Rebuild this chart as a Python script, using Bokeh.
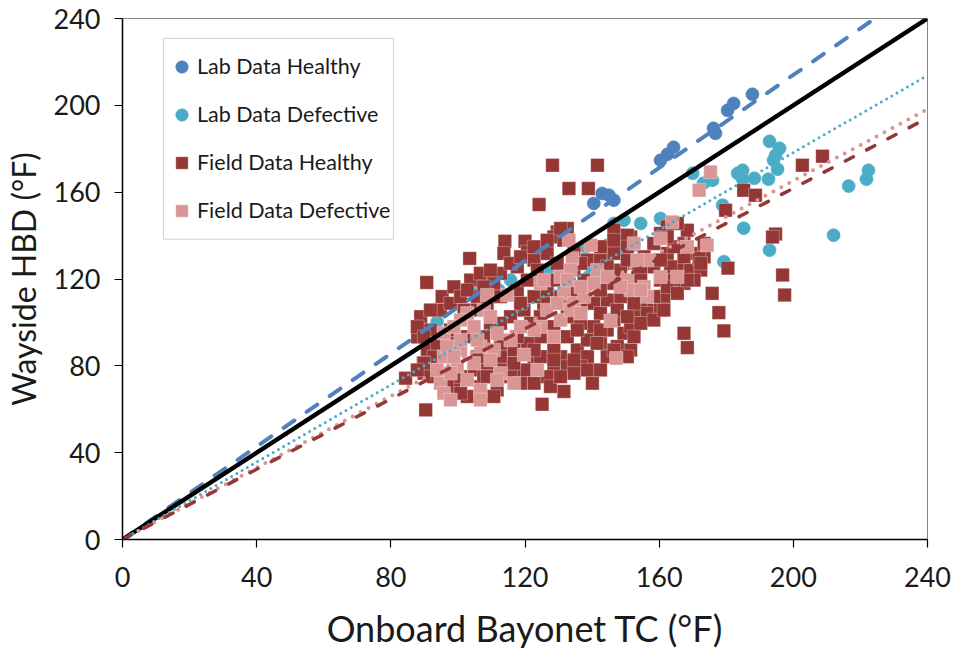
from bokeh.plotting import figure
from bokeh.models import Legend, LegendItem, BoxAnnotation, FixedTicker, Range1d
from bokeh.embed import file_html
from bokeh.resources import INLINE

# ---------------- data ----------------
lab_healthy_x = [140.5, 143.0, 145.0, 146.5, 160.4, 162.5, 164.3, 176.2, 176.8, 180.4, 182.2, 187.8]
lab_healthy_y = [154.8, 159.4, 158.6, 156.3, 174.7, 177.5, 180.7, 189.4, 187.1, 197.7, 200.9, 205.1]

lab_defective_x = [170.0, 173.2, 175.9, 178.9, 160.4, 154.5, 149.5, 146.5, 138.1, 144.5, 147.5, 152.5,
                   140.1, 115.7, 112.2, 105.8, 93.8, 126.6, 179.3, 183.4,
                   192.9, 195.9, 194.7, 194.1, 195.3, 192.6, 188.4, 184.9, 184.9, 216.5, 221.8, 222.4,
                   185.2, 212.0, 192.9]
lab_defective_y = [168.7, 164.1, 165.5, 154.0, 147.9, 145.6, 147.1, 145.6, 134.8, 135.6, 134.1, 135.6,
                   123.3, 119.5, 114.9, 113.4, 100.3, 124.1, 128.0, 168.7,
                   183.4, 180.2, 177.0, 174.7, 170.6, 166.0, 166.4, 170.1, 166.0, 162.8, 166.0, 170.1,
                   143.4, 140.2, 133.3]

field_healthy_x = [208.7, 202.7, 185.2, 188.7, 194.7, 193.8, 196.8, 197.4, 128.2, 141.6,
                   133.1, 138.9, 124.2, 103.5, 90.7, 114.0, 120.0, 129.6, 132.6, 179.8, 167.4, 168.4,
                   175.8, 177.8, 179.3, 140.1, 131.6, 125.1, 90.4, 84.4,
                   88.9, 94.8, 95.3, 98.8, 103.8, 106.7, 112.7, 113.7, 120.7, 122.7, 126.6, 128.6,
                   131.6, 134.6, 123.7, 117.7, 110.7, 105.8, 101.8, 91.8, 90.9, 92.8, 97.8, 92.8,
                   89.9, 98.8, 102.8, 106.7, 111.7, 117.7, 122.7, 128.6, 130.6, 135.6, 138.6, 142.5,
                   136.6, 132.6, 144.5, 146.5, 149.5, 151.5, 147.5, 152.5, 155.5, 158.4, 161.4, 160.4,
                   165.4, 169.4, 172.4, 170.4, 173.4, 167.4, 168.4, 165.4, 162.4, 160.4, 158.4, 155.5,
                   152.5, 148.5, 144.5, 140.5, 138.6, 142.5, 146.5, 147.5, 151.5, 146.5, 162.4, 164.4,
                   158.4, 154.5, 152.5, 148.5, 144.5, 140.5, 136.6, 132.6, 128.6, 124.6, 120.7, 116.7,
                   112.7, 108.7, 104.8, 100.8, 96.8, 109.7, 115.7, 119.7, 125.6, 130.6, 134.6, 137.6,
                   142.5, 147.5, 152.5, 156.4, 160.4, 151.5, 140.5, 138.6, 144.5, 150.5, 128.6, 124.6,
                   120.7, 126.6, 134.6, 115.7, 107.7, 118.7, 112.7, 173.4, 171.9, 167.4, 170.4, 180.5,
                   150.5, 88.0, 89.7, 87.9,
                   97.8, 100.8, 102.8, 107.7, 109.7, 115.7, 118.7, 122.7, 126.6, 130.6, 105.8, 108.7,
                   112.7, 117.7, 120.7, 118.7, 122.7, 126.6, 128.6, 129.6, 134.6, 136.6, 91.8, 89.9,
                   93.8, 97.8, 102.8, 107.7, 112.7, 117.7, 112.7, 105.8, 116.7, 122.7, 127.6, 130.6,
                   138.6, 142.5, 146.5, 152.5, 154.5, 158.4, 161.4, 158.4, 162.4, 165.4, 168.4, 172.4,
                   167.4, 163.4, 160.4, 154.5, 150.5, 144.5, 142.5, 146.5, 142.5, 146.5, 136.6, 132.6,
                   124.6, 121.7, 135.6, 142.5, 152.5, 164.4, 162.4, 150.5, 150.5, 141.5, 134.6, 128.6,
                   122.7, 108.7, 110.7, 100.8, 89.9, 87.9]
field_healthy_y = [176.6, 172.4, 160.9, 158.6, 140.7, 139.3, 121.8, 112.6, 172.4, 172.4,
                   161.7, 161.7, 154.3, 129.5, 118.4, 137.4, 137.4, 141.7, 143.3, 151.7, 95.0, 88.4,
                   113.4, 104.5, 96.1, 72.0, 68.2, 62.3, 59.7, 74.3,
                   102.6, 105.7, 111.9, 116.4, 119.5, 122.6, 122.6, 131.8, 132.5, 128.7, 131.8, 139.4,
                   137.9, 133.3, 124.1, 125.6, 118.0, 111.9, 105.7, 96.5, 87.3, 84.2, 90.4, 75.0,
                   76.6, 72.0, 65.9, 70.4, 68.9, 76.6, 81.2, 78.1, 84.2, 87.3, 84.2, 90.4,
                   79.7, 79.7, 96.5, 101.1, 95.0, 87.3, 88.9, 101.1, 107.3, 105.7, 111.9, 119.5,
                   125.6, 124.1, 124.1, 131.8, 130.2, 136.4, 142.5, 145.6, 144.0, 141.0, 136.4, 130.2,
                   127.2, 124.1, 119.5, 118.0, 128.7, 128.7, 131.8, 140.2, 139.4, 142.5, 131.8, 119.5,
                   125.6, 121.0, 113.4, 111.9, 110.3, 108.8, 105.7, 102.6, 98.0, 93.4, 90.4, 87.3,
                   84.2, 81.2, 78.1, 75.0, 70.5, 99.6, 102.6, 105.7, 108.8, 111.9, 114.9, 119.5,
                   104.2, 105.7, 105.7, 104.2, 105.7, 98.0, 98.0, 91.9, 84.2, 84.2, 87.3, 84.2,
                   78.1, 75.0, 76.6, 75.0, 75.0, 72.0, 78.1, 136.4, 129.5, 118.0, 119.5, 125.0,
                   140.2, 93.3, 81.4, 98.0,
                   108.8, 111.9, 114.9, 116.4, 124.1, 127.2, 130.2, 134.8, 137.9, 143.3, 105.7, 108.8,
                   111.9, 114.9, 119.5, 108.8, 111.9, 114.9, 119.5, 127.2, 124.1, 127.2, 105.7, 93.4,
                   90.4, 96.5, 93.4, 93.4, 90.4, 93.4, 99.6, 84.2, 81.2, 72.0, 70.5, 75.0,
                   78.1, 78.1, 87.3, 93.4, 99.6, 101.1, 105.7, 111.9, 116.4, 113.4, 119.5, 127.2,
                   130.2, 125.6, 128.7, 125.6, 128.7, 125.6, 134.8, 137.9, 114.9, 118.0, 99.6, 93.4,
                   102.6, 99.6, 96.5, 96.5, 108.8, 134.8, 139.4, 134.8, 102.6, 90.4, 82.7, 82.7,
                   87.3, 75.0, 65.9, 67.4, 81.2, 78.1]

field_defective_x = [175.3, 171.9, 147.2, 145.5, 133.1, 139.6, 134.1, 130.6, 124.6, 131.6, 134.6, 137.6,
                     141.5, 144.5, 150.5, 151.5, 155.5, 156.4, 165.4, 156.4, 160.4, 168.4, 174.3, 163.9,
                     152.5, 114.7, 108.7, 107.7, 102.8, 100.8, 95.8, 98.8, 104.8, 111.7, 115.7, 110.7,
                     106.7, 100.8, 95.8, 104.8, 99.8, 93.8, 94.8, 97.8, 102.8, 106.7, 95.8, 97.8,
                     106.7, 112.7, 116.7, 123.7, 119.7, 124.6, 126.6, 130.6, 133.6, 128.6, 125.6, 122.7,
                     118.7, 129.6, 133.6,
                     105.8, 100.8, 96.8, 109.7, 98.8, 111.7, 136.6, 140.5, 148.5, 154.5, 153.5, 160.4,
                     109.7, 132.6, 136.6]
field_defective_y = [169.3, 160.9, 83.5, 100.7, 137.9, 135.6, 129.5, 121.0, 118.0, 113.4, 108.8, 111.9,
                     124.1, 121.0, 119.5, 114.9, 116.4, 111.9, 121.0, 128.7, 138.7, 134.8, 135.6, 146.3,
                     136.4, 112.6, 112.6, 105.7, 104.2, 101.1, 95.0, 98.0, 98.0, 95.0, 91.9, 87.3,
                     88.9, 87.3, 84.2, 81.2, 79.7, 78.1, 72.0, 76.6, 73.5, 68.9, 67.4, 64.3,
                     64.3, 76.6, 72.0, 78.1, 85.1, 98.0, 105.7, 101.1, 105.7, 93.4, 119.5, 96.5,
                     98.0, 108.8, 124.1,
                     91.9, 91.9, 88.9, 82.7, 84.2, 73.5, 104.2, 118.0, 116.4, 114.9, 128.7, 121.0,
                     102.6, 119.5, 116.4]

# trend lines through the origin: y = slope * x
line_x = [0, 240]
slope_one_to_one = 1.0
slope_lab_healthy = 1.07
slope_lab_defective = 0.891
slope_field_defective = 0.826
slope_field_healthy = 0.809

tick_values = [0, 40, 80, 120, 160, 200, 240]

# ---------------- colours ----------------
C_LAB_H = "#4F81BD"
C_LAB_D = "#4BACC6"
C_FIELD_H = "#953735"
C_FIELD_D = "#D99694"

p = figure(width=955, height=652, output_backend="svg", toolbar_location=None,
           x_range=Range1d(0, 240), y_range=Range1d(0, 240),
           min_border_left=122, min_border_right=28, min_border_top=18, min_border_bottom=112,
           x_axis_label="Onboard Bayonet TC (°F)", y_axis_label="Wayside HBD (°F)")
p.grid.visible = False
p.outline_line_color = "#868686"
p.outline_line_width = 1
p.background_fill_color = "white"
p.border_fill_color = "white"

for ax in (p.xaxis[0], p.yaxis[0]):
    ax.ticker = FixedTicker(ticks=tick_values)
    ax.minor_tick_line_color = None
    ax.major_tick_in = 0
    ax.major_tick_out = 8
    ax.major_tick_line_color = "black"
    ax.major_tick_line_width = 1.2
    ax.axis_line_color = "black"
    ax.axis_line_width = 1.5
    ax.major_label_text_font = "Lato"
    ax.major_label_text_font_size = "27px"
    ax.major_label_text_color = "#1a1a1a"
    ax.axis_label_text_font = "Lato"
    ax.axis_label_text_font_style = "normal"
    ax.axis_label_text_color = "#1a1a1a"
p.xaxis[0].axis_label_text_font_size = "36px"
p.yaxis[0].axis_label_text_font_size = "32px"
p.xaxis[0].major_label_standoff = 19
p.xaxis[0].axis_label_standoff = 16
p.yaxis[0].major_label_standoff = 14
p.yaxis[0].axis_label_standoff = 8

r_lh = p.scatter(lab_healthy_x, lab_healthy_y, marker="circle", size=13,
                 fill_color=C_LAB_H, line_color=C_LAB_H, line_alpha=0.6)
r_ld = p.scatter(lab_defective_x, lab_defective_y, marker="circle", size=13,
                 fill_color=C_LAB_D, line_color=C_LAB_D, line_alpha=0.6)
r_fh = p.scatter(field_healthy_x, field_healthy_y, marker="square", size=13.5,
                 fill_color=C_FIELD_H, line_color="white", line_width=0.6, line_alpha=0.5)
r_fd = p.scatter(field_defective_x, field_defective_y, marker="square", size=13.5,
                 fill_color=C_FIELD_D, line_color="white", line_width=0.6, line_alpha=0.5)

# trend lines
p.line(line_x, [slope_lab_healthy * v for v in line_x], line_color=C_LAB_H, line_width=4,
       line_dash="13 15", line_cap="round")
p.line(line_x, [slope_one_to_one * v for v in line_x], line_color="black", line_width=4.5)
p.line(line_x, [slope_lab_defective * v for v in line_x], line_color=C_LAB_D, line_width=3,
       line_dash="0 6", line_cap="round")
p.line(line_x, [slope_field_defective * v for v in line_x], line_color=C_FIELD_D, line_width=4,
       line_dash="0 9", line_cap="round")
p.line(line_x, [slope_field_healthy * v for v in line_x], line_color=C_FIELD_H, line_width=3.5,
       line_dash="9 15", line_cap="round")

# legend frame (drawn separately so glyph/label spacing can match)
box = BoxAnnotation(left=12.2, right=80.8, bottom=138.4, top=230.8,
                    fill_color="white", fill_alpha=1.0, line_color="#7f7f7f", line_width=1.2)
p.add_layout(box)

legend = Legend(items=[LegendItem(label="Lab Data Healthy", renderers=[r_lh]),
                       LegendItem(label="Lab Data Defective", renderers=[r_ld]),
                       LegendItem(label="Field Data Healthy", renderers=[r_fh]),
                       LegendItem(label="Field Data Defective", renderers=[r_fd])],
                location=(44, 311.5), orientation="vertical",
                glyph_width=31, glyph_height=35, label_height=35, spacing=13,
                label_standoff=0, padding=0, margin=0,
                border_line_alpha=0, background_fill_alpha=0,
                label_text_font="Lato", label_text_font_size="21.5px", label_text_color="#1a1a1a")
p.add_layout(legend)

open("out.html", "w").write(file_html(p, INLINE))
